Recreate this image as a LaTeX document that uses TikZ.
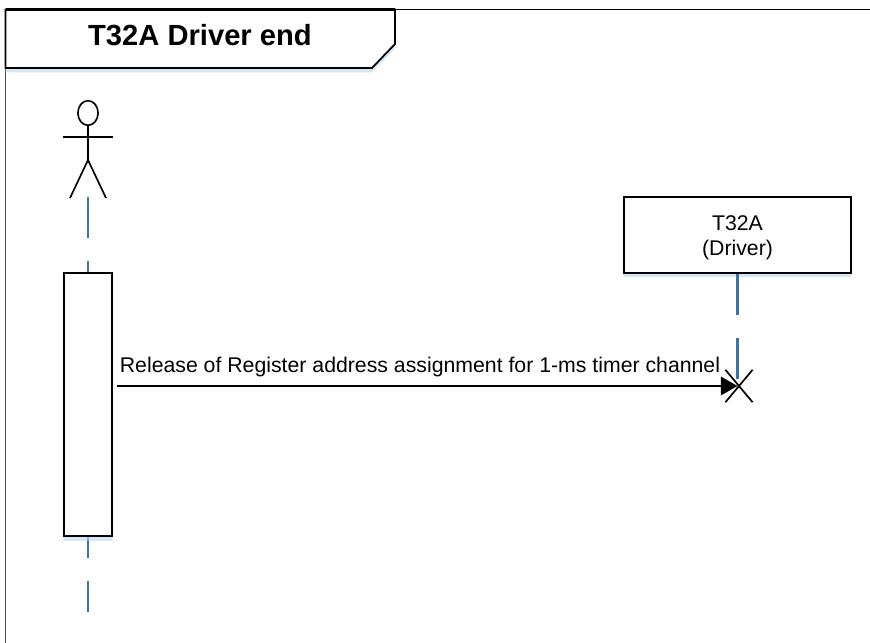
\documentclass[tikz,border=0pt]{standalone}
\usepackage{fontspec}
\setmainfont{Liberation Sans}
\usetikzlibrary{arrows.meta,shadows,shapes.misc,shapes.geometric}
\definecolor{lifeblue}{HTML}{41719C}
\definecolor{glowblue}{HTML}{BDD7EE}

\tikzset{
    softshadow/.style={drop shadow={shadow xshift=0pt,shadow yshift=-2.5pt,fill=glowblue,opacity=0.6}},
    lifeline/.style={color=lifeblue,line width=1.4pt,dash pattern=on 23.2pt off 13.2pt},
    lifebox/.style={draw,fill=white,line width=1.1pt,softshadow,inner sep=0pt},
    stick/.style={line width=0.95pt},
    msgtext/.style={font=\fontsize{12.1}{14.2}\selectfont,inner sep=0pt}
}

\begin{document}
\begin{tikzpicture}[x=0.02cm,y=-0.02cm]
    \useasboundingbox (0,0) rectangle (870,643);
    % frame and title tab
    \draw[line width=0.85pt] (395,9.5) -- (870,9.5);
    \draw[line width=0.95pt,color=black!70] (5.5,68) -- (5.5,643);
    \draw[fill=white,line width=1pt,softshadow] (5.5,9.5) -- (395,9.5) -- (395,44) -- (372,68) -- (5.5,68) -- cycle;
    \draw[line width=1.5pt] (5.5,9.5) -- (395,9.5);
    \node[font=\bfseries\fontsize{16.6}{19}\selectfont,inner sep=0pt] (title) at (200,35) {T32A Driver end};
    % actor
    \node[draw,stick,ellipse,minimum width=11.5pt,minimum height=14pt,inner sep=0pt] (head) at (88,113) {};
    \coordinate (hip) at (88,160);
    \coordinate (armL) at (63,137);
    \coordinate (armR) at (113,137);
    \coordinate (legL) at (70,198);
    \coordinate (legR) at (106,198);
    \draw[stick] (head.south) -- (hip);
    \draw[stick] (armL) -- (armR);
    \draw[stick] (legL) -- (hip) -- (legR);
    % lifelines
    \coordinate (actorfoot) at (88,197);
    \coordinate (actorend) at (88,612);
    \draw[lifeline] (actorfoot) -- (actorend);
    \node[lifebox,minimum width=27.2pt,minimum height=150.2pt] (bar) at (88,404.5) {};
    \node[lifebox,minimum width=128.7pt,minimum height=43.1pt] (driver) at (737.5,235) {};
    \node[msgtext,align=center] (driverlabel) at (737.5,238) {T32A\\(Driver)};
    \node[cross out,draw,stick,minimum width=14.5pt,minimum height=17.5pt,inner sep=0pt] (endx) at (739,386) {};
    \coordinate (stop) at (driver.south |- endx.center);
    \draw[lifeline] (driver.south) -- (stop);
    % message
    \coordinate (msgstart) at (117,386);
    \draw[-{Triangle[length=9.5pt,width=10.5pt]},line width=1.3pt] (msgstart) -- (stop);
    \node[msgtext] (msg) at (420,367) {Release of Register address assignment for 1-ms timer channel};
\end{tikzpicture}
\end{document}
